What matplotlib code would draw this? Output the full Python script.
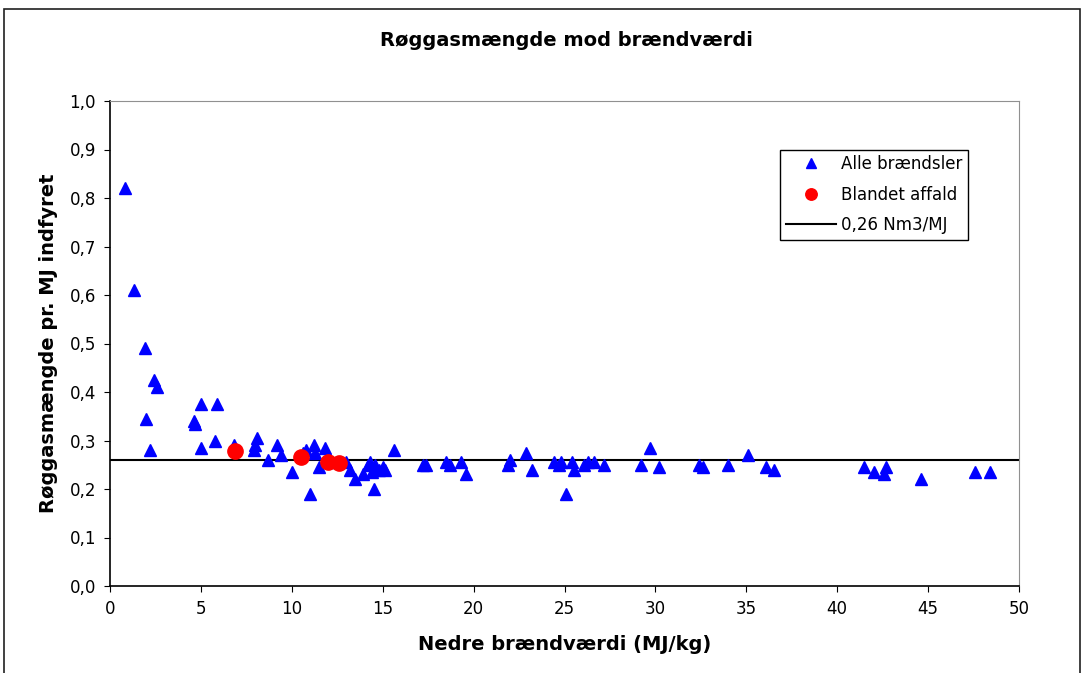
import numpy as np
import matplotlib
matplotlib.use("Agg")
import matplotlib.pyplot as plt
from matplotlib.patches import Rectangle

# Data
alle_x = [0.8, 1.3, 1.9, 2.0, 2.4, 2.6, 2.2, 4.6, 4.7, 5.0, 5.0, 5.8, 5.9, 6.8,
          7.9, 8.0, 8.1, 8.7, 9.2, 9.4, 10.0, 10.6, 10.8, 11.0, 11.2, 11.3, 11.5,
          11.8, 12.0, 12.5, 13.0, 13.2, 13.5, 13.9, 14.2, 14.3, 14.4, 14.5, 14.6,
          14.8, 15.0, 15.1, 15.6, 17.2, 17.4, 18.5, 18.7, 19.3, 19.6, 21.9, 22.0,
          22.9, 23.2, 24.4, 24.7, 24.8, 25.1, 25.4, 25.5, 26.1, 26.3, 26.6, 27.2,
          29.2, 29.7, 30.2, 32.4, 32.6, 34.0, 35.1, 36.1, 36.5, 41.5, 42.0, 42.6,
          42.7, 44.6, 47.6, 48.4]
alle_y = [0.82, 0.61, 0.49, 0.345, 0.425, 0.41, 0.28, 0.34, 0.335, 0.375, 0.285,
          0.30, 0.375, 0.29, 0.28, 0.29, 0.305, 0.26, 0.29, 0.27, 0.235, 0.275,
          0.28, 0.19, 0.29, 0.275, 0.245, 0.285, 0.265, 0.255, 0.255, 0.24, 0.22,
          0.23, 0.25, 0.255, 0.235, 0.20, 0.25, 0.24, 0.245, 0.24, 0.28, 0.25,
          0.25, 0.255, 0.25, 0.255, 0.23, 0.25, 0.26, 0.275, 0.24, 0.255, 0.25,
          0.255, 0.19, 0.255, 0.24, 0.25, 0.255, 0.255, 0.25, 0.25, 0.285, 0.245,
          0.25, 0.245, 0.25, 0.27, 0.245, 0.24, 0.245, 0.235, 0.23, 0.245, 0.22,
          0.235, 0.235]

affald_x = [6.9, 10.5, 12.0, 12.6]
affald_y = [0.278, 0.265, 0.255, 0.253]

ref_value = 0.26
x_ticks = [0, 5, 10, 15, 20, 25, 30, 35, 40, 45, 50]
y_ticks = [0.0, 0.1, 0.2, 0.3, 0.4, 0.5, 0.6, 0.7, 0.8, 0.9, 1.0]

fig = plt.figure(figsize=(10.85, 6.73), dpi=100)
ax = fig.add_axes([110 / 1085, 1 - 586 / 673, 909 / 1085, 485 / 673])

# outer chart frame (Excel style)
fig.patches.append(Rectangle((4 / 1085, -0.1), 1076 / 1085, 1.1 - 9 / 673,
                             transform=fig.transFigure, fill=False,
                             edgecolor="#202020", linewidth=1.2))

ax.plot(alle_x, alle_y, linestyle="none", marker="^", color="#0000FF",
        markersize=9, label="Alle brændsler", zorder=3)
ax.plot(affald_x, affald_y, linestyle="none", marker="o", color="#FF0000",
        markersize=11, label="Blandet affald", zorder=4)
ax.plot([0, 50], [ref_value, ref_value], color="black", linewidth=1.5,
        label="0,26 Nm3/MJ", zorder=2)

ax.set_xlim(0, 50)
ax.set_ylim(0, 1.0)
ax.set_xticks(x_ticks)
ax.set_xticklabels([str(t) for t in x_ticks])
ax.set_yticks(y_ticks)
ax.set_yticklabels([f"{t:.1f}".replace(".", ",") for t in y_ticks])
ax.tick_params(direction="out", length=4, labelsize=12, pad=6)

for side in ["top", "right"]:
    ax.spines[side].set_color("#909090")
for side in ["left", "bottom"]:
    ax.spines[side].set_color("black")
    ax.spines[side].set_linewidth(1.2)

ax.set_xlabel("Nedre brændværdi (MJ/kg)", fontsize=14, fontweight="bold", labelpad=12)
ax.set_ylabel("Røggasmængde pr. MJ indfyret", fontsize=14, fontweight="bold", labelpad=8)
fig.text(0.5 * (110 + 1019) / 1085 + 0.002, 1 - 40 / 673, "Røggasmængde mod brændværdi",
         ha="center", va="center", fontsize=14, fontweight="bold")

leg = ax.legend(loc="upper left", bbox_to_anchor=(0.737, 0.9), fontsize=12,
                frameon=True, fancybox=False, framealpha=1, edgecolor="black",
                borderpad=0.35, labelspacing=0.75, handlelength=3.0, handletextpad=0.3,
                borderaxespad=0, markerscale=0.75)
leg.get_frame().set_linewidth(1.0)

fig.savefig("out.png", dpi=100)
